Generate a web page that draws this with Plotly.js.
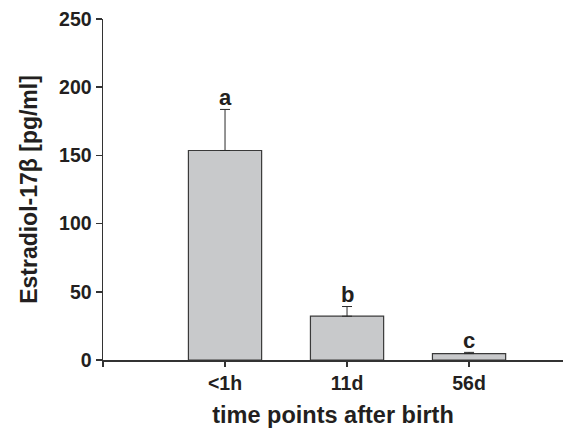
<!DOCTYPE html>
<html>
<head>
<meta charset="utf-8">
<script src="https://cdn.plot.ly/plotly-3.0.1.min.js"></script>
<style>html,body{margin:0;padding:0;background:#fff;}#chart{width:563px;height:428px;}</style>
</head>
<body>
<div id="chart"></div>
<script>
const categories = ["<1h", "11d", "56d"];
const positions = [1, 2, 3];
const means = [153.6, 32.1, 4.7];
const errorsUp = [30.1, 7.1, 0.9];
const groupLetters = ["a", "b", "c"];
const yTicks = [0, 50, 100, 150, 200, 250];

const FONT = "Liberation Sans, Arial, Helvetica, sans-serif";
const INK = "#231f20";

const trace = {
  type: "bar",
  x: positions,
  y: means,
  width: 0.6,
  marker: { color: "#c8c9cb", line: { color: "#3a3a3a", width: 1.2 } },
  error_y: {
    type: "data",
    symmetric: false,
    array: errorsUp,
    arrayminus: means.map(() => 0),
    color: "#2a2a2a",
    thickness: 1,
    width: 5
  },
  hoverinfo: "skip"
};

const annotations = positions.map((p, i) => ({
  x: p,
  y: means[i] + errorsUp[i],
  xref: "x",
  yref: "y",
  text: "<b>" + groupLetters[i] + "</b>",
  showarrow: false,
  yanchor: "middle",
  yshift: 12,
  font: { family: FONT, size: 22, color: INK }
}));

const layout = {
  width: 563,
  height: 428,
  margin: { l: 103, r: 0, t: 19, b: 68, pad: 0 },
  paper_bgcolor: "#ffffff",
  plot_bgcolor: "#ffffff",
  showlegend: false,
  font: { family: FONT, color: INK },
  xaxis: {
    range: [0, 3.77],
    tickmode: "array",
    tickvals: [0].concat(positions),
    ticktext: [""].concat(categories.map(c => "<b>" + c.replace("<", "&lt;") + "</b>")),
    ticks: "outside",
    ticklen: 5,
    tickwidth: 1.5,
    tickcolor: "#333",
    showline: true,
    linecolor: "#333",
    linewidth: 1.5,
    showgrid: false,
    zeroline: false,
    fixedrange: true,
    tickfont: { family: FONT, size: 19.5, color: INK },
    title: { text: "<b>time points after birth</b>", font: { family: FONT, size: 23.5, color: INK }, standoff: 22 },
    automargin: false
  },
  yaxis: {
    range: [0, 250],
    tickmode: "array",
    tickvals: yTicks,
    ticktext: yTicks.map(v => "<b>" + v + "</b>"),
    ticks: "outside",
    ticklen: 6,
    tickwidth: 1.5,
    tickcolor: "#333",
    showline: true,
    linecolor: "#333",
    linewidth: 1.5,
    showgrid: false,
    zeroline: false,
    fixedrange: true,
    tickfont: { family: FONT, size: 19.5, color: INK },
    title: { text: "<b>Estradiol-17β [pg/ml]</b>", font: { family: FONT, size: 23, color: INK }, standoff: 15 },
    automargin: false
  },
  annotations: annotations
};

Plotly.newPlot("chart", [trace], layout, { displayModeBar: false, staticPlot: true });
</script>
</body>
</html>
